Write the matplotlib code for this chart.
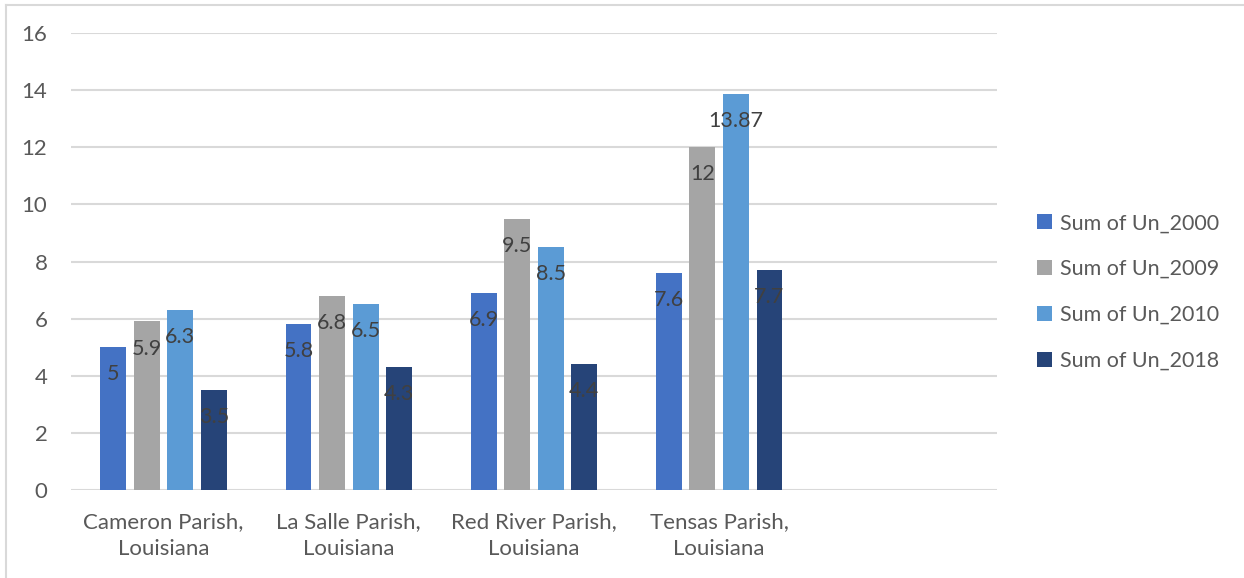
import matplotlib
matplotlib.use("Agg")
import matplotlib.pyplot as plt
from matplotlib.lines import Line2D
from matplotlib.patches import Patch
import numpy as np

# Data
categories = ["Cameron Parish,\nLouisiana", "La Salle Parish,\nLouisiana",
              "Red River Parish,\nLouisiana", "Tensas Parish,\nLouisiana"]
series_names = ["Sum of Un_2000", "Sum of Un_2009", "Sum of Un_2010", "Sum of Un_2018"]
un_2000 = [5, 5.8, 6.9, 7.6]
un_2009 = [5.9, 6.8, 9.5, 12]
un_2010 = [6.3, 6.5, 8.5, 13.87]
un_2018 = [3.5, 4.3, 4.4, 7.7]
y_ticks = [0, 2, 4, 6, 8, 10, 12, 14, 16]

series_values = [un_2000, un_2009, un_2010, un_2018]
colors = ["#4472C4", "#A5A5A5", "#5B9BD5", "#264478"]

plt.rcParams["font.family"] = ["Lato", "DejaVu Sans"]

W, H = 1244, 578
fig = plt.figure(figsize=(W / 100, H / 100), dpi=100)
fig.patch.set_facecolor("white")

ax = fig.add_axes([71 / W, 1 - 490 / H, (997 - 71) / W, (490 - 33) / H])

n_slots = 5
x = np.arange(len(categories))
bar_w = 0.14
step = 0.181
offsets = (np.arange(4) - 1.5) * step

for vals, off, col, name in zip(series_values, offsets, colors, series_names):
    bars = ax.bar(x + off, vals, width=bar_w, color=col, label=name, zorder=3)
    for b, v in zip(bars, vals):
        ax.annotate(f"{v:g}", (b.get_x() + b.get_width() / 2, v),
                    xytext=(0, -19.5), textcoords="offset points",
                    ha="center", va="center", fontsize=15.5, color="#404040",
                    zorder=4)

ax.set_xlim(-0.5, n_slots - 0.5)
ax.set_ylim(0, 16)
ax.set_yticks(y_ticks)
ax.set_yticklabels([str(t) for t in y_ticks])
ax.yaxis.grid(True, color="#D9D9D9", linewidth=1.5, zorder=0)
ax.set_axisbelow(True)
for s in ax.spines.values():
    s.set_visible(False)
ax.tick_params(axis="both", length=0, colors="#595959", labelsize=16)
ax.tick_params(axis="y", pad=17)
ax.set_xticks(x)
ax.set_xticklabels(categories, linespacing=1.45)
ax.tick_params(axis="x", pad=16)
for lbl in ax.get_xticklabels():
    lbl.set_horizontalalignment("center")

handles = [Patch(facecolor=c, edgecolor="none") for c in colors]
fig.legend(handles, series_names, loc="center left",
           bbox_to_anchor=(1018 / W, 1 - 292 / H), frameon=False,
           fontsize=15.5, labelcolor="#595959", handlelength=0.7,
           handleheight=0.7, handletextpad=0.35, labelspacing=1.2)

# Chart-area border (left and top edges)
fig.add_artist(Line2D([6 / W, 6 / W], [0, 1 - 5 / H], transform=fig.transFigure,
                      color="#D9D9D9", linewidth=1.5))
fig.add_artist(Line2D([6 / W, 1], [1 - 5 / H, 1 - 5 / H], transform=fig.transFigure,
                      color="#D9D9D9", linewidth=1.5))

fig.savefig("out.png", dpi=100, facecolor="white")
